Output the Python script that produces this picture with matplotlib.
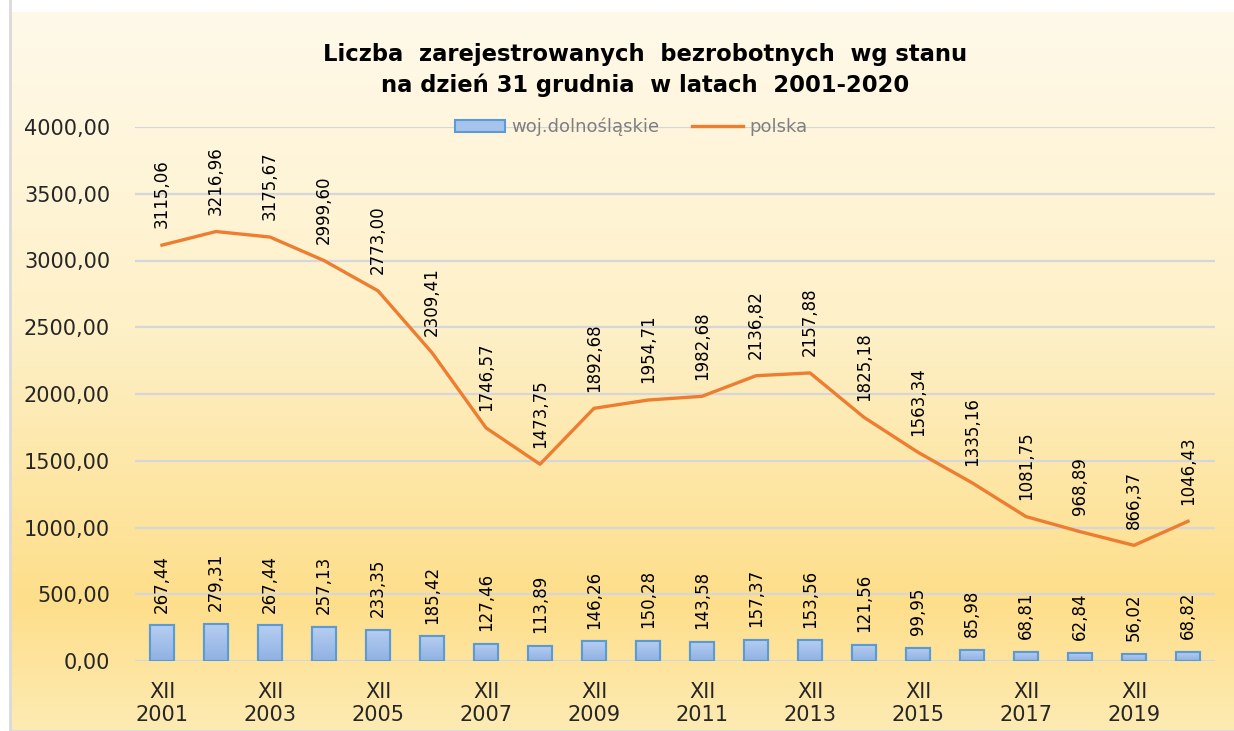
import numpy as np
import matplotlib
matplotlib.use("Agg")
import matplotlib.pyplot as plt
from matplotlib.colors import LinearSegmentedColormap
from matplotlib.patches import Rectangle

# Dane
lata = [2001, 2002, 2003, 2004, 2005, 2006, 2007, 2008, 2009, 2010,
        2011, 2012, 2013, 2014, 2015, 2016, 2017, 2018, 2019, 2020]
dolnoslaskie = [267.44, 279.31, 267.44, 257.13, 233.35, 185.42, 127.46, 113.89, 146.26, 150.28,
                143.58, 157.37, 153.56, 121.56, 99.95, 85.98, 68.81, 62.84, 56.02, 68.82]
polska = [3115.06, 3216.96, 3175.67, 2999.60, 2773.00, 2309.41, 1746.57, 1473.75, 1892.68, 1954.71,
          1982.68, 2136.82, 2157.88, 1825.18, 1563.34, 1335.16, 1081.75, 968.89, 866.37, 1046.43]
etykiety_x = ["XII\n" + str(r) if i % 2 == 0 else "" for i, r in enumerate(lata)]
y_ticks = [0, 500, 1000, 1500, 2000, 2500, 3000, 3500, 4000]

tytul = "Liczba  zarejestrowanych  bezrobotnych  wg stanu\nna dzień 31 grudnia  w latach  2001-2020"

W, H = 1234, 731
fig = plt.figure(figsize=(W / 100, H / 100), dpi=100)
fig.patch.set_facecolor("white")


def fmt(v):
    return f"{v:.2f}".replace(".", ",")


# Tło z gradientem
bg = fig.add_axes([10 / W, 0, 1 - 10 / W, (H - 12) / H], zorder=-2)
cmap_bg = LinearSegmentedColormap.from_list(
    "bg", [(0.0, "#FFF9EA"), (0.45, "#FEF0C6"), (0.82, "#FDDE8A"), (1.0, "#FEEBB3")])
grad = np.linspace(0, 1, 256).reshape(-1, 1)
bg.imshow(grad, aspect="auto", cmap=cmap_bg, extent=[0, 1, 1, 0])
bg.set_xlim(0, 1)
bg.set_ylim(1, 0)
bg.axis("off")
bg.add_patch(Rectangle((0, 0), 1.2, 1.2, transform=bg.transAxes, fill=False,
                       edgecolor="#D9D9D9", lw=2, clip_on=False))

# Wykres
ax = fig.add_axes([135 / W, (H - 661) / H, (1215 - 135) / W, (661 - 127) / H])
ax.set_facecolor("none")
x = np.arange(len(lata))

slupki = ax.bar(x, dolnoslaskie, width=0.44, color="#A6C3EB", edgecolor="#5B9BD5",
                linewidth=1.5, label="woj.dolnośląskie", zorder=3)
linia, = ax.plot(x, polska, color="#ED7D31", lw=2.4, label="polska", zorder=4)

# gradient w słupkach
cmap_bar = LinearSegmentedColormap.from_list("bar", ["#8FB1E3", "#B6CEF1"])
for b in slupki:
    bx, by = b.get_x(), b.get_y()
    im = ax.imshow(np.linspace(0, 1, 64).reshape(-1, 1), cmap=cmap_bar, aspect="auto",
                   origin="lower", extent=[bx, bx + b.get_width(), by, by + b.get_height()],
                   zorder=3.1)
    im.set_clip_path(b)
    edge = Rectangle((bx, by), b.get_width(), b.get_height(), fill=False,
                     edgecolor="#5B9BD5", lw=1.5, zorder=3.2)
    ax.add_patch(edge)

for xi, v in zip(x, dolnoslaskie):
    ax.annotate(fmt(v), (xi, v), xytext=(0, 9), textcoords="offset points",
                rotation=90, ha="center", va="bottom", fontsize=12, color="black")
for xi, v in zip(x, polska):
    ax.annotate(fmt(v), (xi, v), xytext=(0, 12), textcoords="offset points",
                rotation=90, ha="center", va="bottom", fontsize=12, color="black")

ax.set_xlim(-0.5, len(lata) - 0.5)
ax.set_ylim(0, 4000)
ax.set_yticks(y_ticks)
ax.set_yticklabels([fmt(v) for v in y_ticks], fontsize=15, color="#262626")
ax.set_xticks(x)
ax.set_xticklabels(etykiety_x, fontsize=15, color="#262626", linespacing=1.2)
ax.tick_params(axis="both", length=0)
ax.tick_params(axis="y", pad=18)
ax.tick_params(axis="x", pad=15)
for s in ax.spines.values():
    s.set_visible(False)
ax.grid(axis="y", color="#D4D6DC", lw=1.6, zorder=0)
ax.set_axisbelow(True)

leg = fig.legend([slupki, linia], ["woj.dolnośląskie", "polska"], loc="center",
                 bbox_to_anchor=(631 / W, (H - 127) / H), ncol=2,
                 frameon=False, fontsize=13, handlelength=2.8, handletextpad=0.35,
                 columnspacing=1.8)
for t in leg.get_texts():
    t.set_color("#7F7F7F")

fig.text(645 / W, (H - 70) / H, tytul, ha="center", va="center", fontsize=16.3,
         fontweight="bold", color="black", linespacing=1.45)

fig.savefig("out.png", dpi=100)
